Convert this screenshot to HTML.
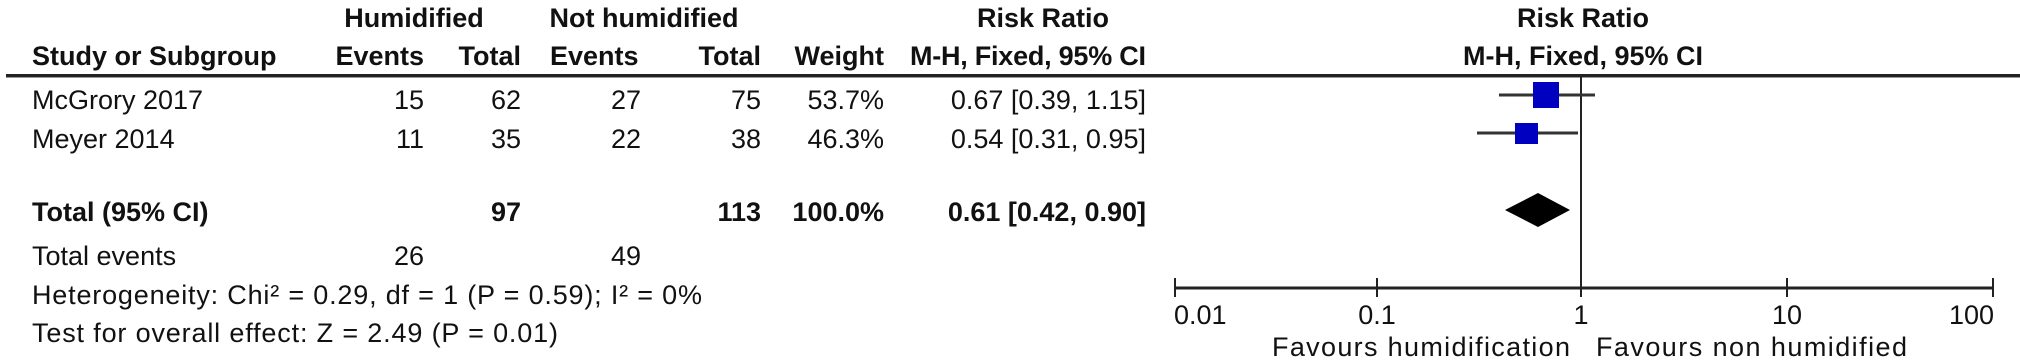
<!DOCTYPE html>
<html><head><meta charset="utf-8"><style>
html,body{margin:0;padding:0;background:#fff;}
svg{display:block;}
text{font-family:"Liberation Sans",Arial,sans-serif;font-size:27px;fill:#111;}
.b{font-weight:bold;}
</style></head><body>
<svg width="2020" height="362" viewBox="0 0 2020 362" xmlns="http://www.w3.org/2000/svg">
<g class="b">
<text class="b" x="414" y="27" text-anchor="middle">Humidified</text>
<text class="b" x="644" y="27" text-anchor="middle">Not humidified</text>
<text class="b" x="1043" y="27" text-anchor="middle">Risk Ratio</text>
<text class="b" x="1583" y="27" text-anchor="middle">Risk Ratio</text>
<text class="b" x="32" y="65">Study or Subgroup</text>
<text class="b" x="424" y="65" text-anchor="end">Events</text>
<text class="b" x="521" y="65" text-anchor="end">Total</text>
<text class="b" x="550" y="65">Events</text>
<text class="b" x="761" y="65" text-anchor="end">Total</text>
<text class="b" x="884" y="65" text-anchor="end">Weight</text>
<text class="b" x="910" y="65" textLength="236">M-H, Fixed, 95% CI</text>
<text class="b" x="1583" y="65" text-anchor="middle">M-H, Fixed, 95% CI</text>
</g>
<rect x="6" y="74" width="2014" height="3" fill="#222"/>
<rect x="6" y="77" width="2014" height="1" fill="#999"/>

<text x="32" y="109">McGrory 2017</text>
<text x="424" y="109" text-anchor="end">15</text>
<text x="521" y="109" text-anchor="end">62</text>
<text x="641" y="109" text-anchor="end">27</text>
<text x="761" y="109" text-anchor="end">75</text>
<text x="884" y="109" text-anchor="end">53.7%</text>
<text x="1146" y="109" text-anchor="end">0.67 [0.39, 1.15]</text>

<text x="32" y="148">Meyer 2014</text>
<text x="424" y="148" text-anchor="end">11</text>
<text x="521" y="148" text-anchor="end">35</text>
<text x="641" y="148" text-anchor="end">22</text>
<text x="761" y="148" text-anchor="end">38</text>
<text x="884" y="148" text-anchor="end">46.3%</text>
<text x="1146" y="148" text-anchor="end">0.54 [0.31, 0.95]</text>

<text class="b" x="32" y="221">Total (95% CI)</text>
<text class="b" x="521" y="221" text-anchor="end">97</text>
<text class="b" x="761" y="221" text-anchor="end">113</text>
<text class="b" x="884" y="221" text-anchor="end">100.0%</text>
<text class="b" x="1146" y="221" text-anchor="end">0.61 [0.42, 0.90]</text>

<text x="32" y="265">Total events</text>
<text x="424" y="265" text-anchor="end">26</text>
<text x="641" y="265" text-anchor="end">49</text>
<text x="32" y="304" textLength="670">Heterogeneity: Chi² = 0.29, df = 1 (P = 0.59); I² = 0%</text>
<text x="32" y="342" textLength="526">Test for overall effect: Z = 2.49 (P = 0.01)</text>

<!-- plot -->
<line x1="1581" y1="76" x2="1581" y2="289" stroke="#222" stroke-width="2"/>
<line x1="1499" y1="95" x2="1595" y2="95" stroke="#333" stroke-width="3"/>
<rect x="1533" y="82" width="26" height="26" fill="#0000c0"/>
<line x1="1477" y1="133" x2="1578" y2="133" stroke="#333" stroke-width="3"/>
<rect x="1515" y="123" width="23" height="21" fill="#0000c0"/>
<polygon points="1505,210 1538,193 1570,210 1538,227" fill="#000"/>

<line x1="1174" y1="288" x2="1994" y2="288" stroke="#222" stroke-width="3"/>
<g stroke="#222" stroke-width="2">
<line x1="1175" y1="278" x2="1175" y2="297"/>
<line x1="1377" y1="278" x2="1377" y2="297"/>
<line x1="1581" y1="278" x2="1581" y2="297"/>
<line x1="1787" y1="278" x2="1787" y2="297"/>
<line x1="1993" y1="278" x2="1993" y2="297"/>
</g>
<text x="1174" y="324">0.01</text>
<text x="1377" y="324" text-anchor="middle">0.1</text>
<text x="1581" y="324" text-anchor="middle">1</text>
<text x="1787" y="324" text-anchor="middle">10</text>
<text x="1994" y="324" text-anchor="end">100</text>
<text x="1272" y="356" textLength="298">Favours humidification</text>
<text x="1596" y="356" textLength="311">Favours non humidified</text>
</svg>
</body></html>
